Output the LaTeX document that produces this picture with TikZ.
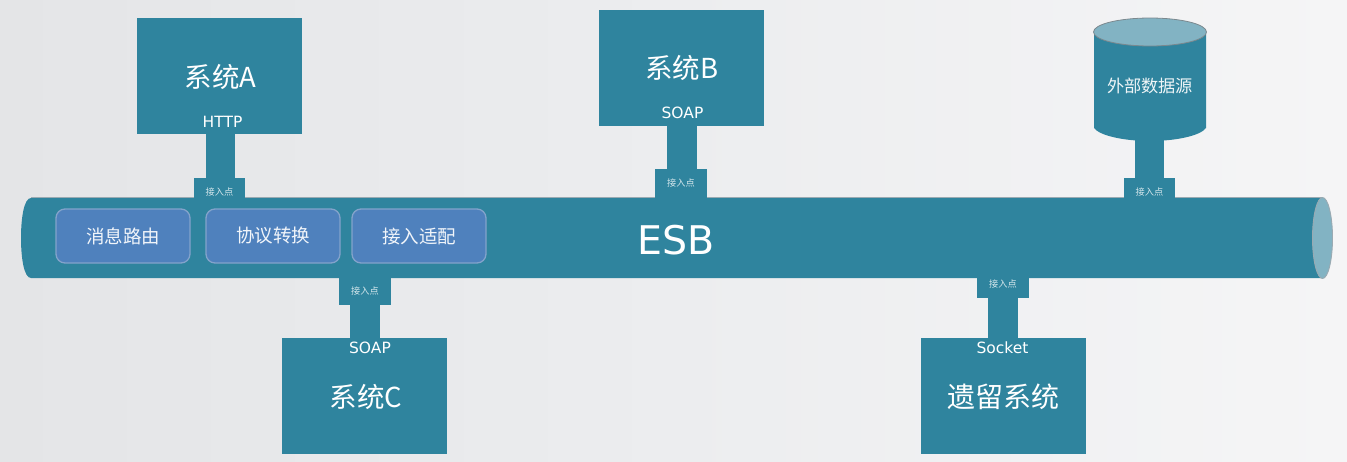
\documentclass[tikz,border=0pt]{standalone}
\usepackage{fontspec}
\setmainfont{DejaVu Sans}
\newfontfamily\cjk{Noto Sans CJK SC}
\definecolor{teal1}{HTML}{2F849E}
\definecolor{teal2}{HTML}{82B3C3}
\definecolor{edgegray}{HTML}{9AAAB2}
\definecolor{blue1}{HTML}{4F81BD}
\definecolor{blue2}{HTML}{83A3CB}
\definecolor{bgL}{HTML}{E4E5E7}
\definecolor{bgM}{HTML}{ECEDEF}
\definecolor{bgR}{HTML}{F5F5F6}
\newcommand{\fs}[1]{\fontsize{#1}{#1}\selectfont}
\tikzset{
  x=1pt,y=-1pt,
  sysbox/.style={fill=teal1,draw=none,minimum width=165pt,minimum height=116pt,inner sep=0pt},
  access/.style={fill=teal1,draw=none,minimum width=51.5pt,inner sep=0pt},
  aclabel/.style={text=white!80!teal1,font=\cjk\fs{9.2},inner sep=0pt},
  linkbar/.style={draw=teal1,line width=29.5pt},
  func/.style={fill=blue1,draw=blue2,line width=1.3pt,rounded corners=9pt,minimum width=134pt,minimum height=54pt,inner sep=0pt,text=white!92!blue1,font=\cjk\fs{18.5}},
  systitle/.style={text=white,inner sep=0pt,font=\cjk\fs{27.5}},
  proto/.style={text=white,inner sep=0pt,font=\fs{15.5}}
}
\begin{document}
\begin{tikzpicture}
\useasboundingbox (0,0) rectangle (1347,461);
\shade[left color=bgL,right color=bgR,middle color=bgM] (0,0) rectangle (1347,461);

% system boxes
\node[sysbox] (sysA) at (219.5,76) {};
\node[sysbox] (sysB) at (681,68) {};
\node[sysbox] (sysC) at (364.5,396) {};
\node[sysbox] (sysD) at (1003.5,396) {};

% bus
\fill[teal1] (31,198) -- (1322.5,198) -- (1322.5,278) -- (31,278)
  .. controls (24,278) and (21,258) .. (21,238) .. controls (21,218) and (24,198) .. (31,198) -- cycle;
\draw[edgegray,line width=0.6pt] (31,197.7) -- (1322.5,197.7);
\coordinate (busend) at (1322.5,238);
\draw[fill=teal2,draw=edgegray,line width=0.9pt] (busend) ellipse [x radius=10,y radius=40.5];

% access points
\node[access,minimum height=20pt] (acA) at (219.5,188) {};
\node[access,minimum height=29pt] (acB) at (681,183.5) {};
\node[access,minimum height=20pt] (acE) at (1149.5,188) {};
\node[access,minimum height=27pt] (acC) at (365,291.5) {};
\node[access,minimum height=20pt] (acD) at (1003,288) {};
\node[aclabel] (lbA) at (219.5,192) {接入点};
\node[aclabel] (lbB) at (681,183) {接入点};
\node[aclabel] (lbE) at (1149.5,192) {接入点};
\node[aclabel] (lbC) at (365,291) {接入点};
\node[aclabel] (lbD) at (1003,284) {接入点};

% database
\path[fill=teal1] (1094,32) -- (1206,32) -- (1206,128) .. controls (1200,136) and (1175,141) .. (1150,141)
  .. controls (1125,141) and (1100,136) .. (1094,128) -- cycle;
\coordinate (dbBottom) at (1150,140);
\coordinate (dbTop) at (1150,32);
\draw[fill=teal2,draw=edgegray!80!black,line width=0.8pt] (dbTop) ellipse [x radius=56.5,y radius=14];
\node[text=white!92!teal1,inner sep=0pt,font=\cjk\fs{17.2}] (dbLabel) at (1150,86) {外部数据源};

% connectors
\draw[linkbar] ([xshift=1pt]acA.north) -- ([xshift=1pt]sysA.south -| acA.north);
\draw[linkbar] ([xshift=1pt]acB.north) -- ([xshift=1pt]sysB.south -| acB.north);
\draw[linkbar] (acE.north) -- (dbBottom -| acE.north);
\draw[linkbar] (acC.south) -- (sysC.north -| acC.south);
\draw[linkbar] (acD.south) -- (sysD.north -| acD.south);

% titles and protocols
\node[systitle] (tA) at (220.5,77) {系统A};
\node[systitle] (tB) at (682,68) {系统B};
\node[systitle] (tC) at (366,397) {系统C};
\node[systitle,font=\cjk\fs{28}] (tD) at (1003,397) {遗留系统};
\node[proto] (pA) at (222.5,122) {HTTP};
\node[proto] (pB) at (682.5,113) {SOAP};
\node[proto] (pC) at (370,348) {SOAP};
\node[proto] (pD) at (1002.5,348) {Socket};

% function boxes and bus label
\node[func] (f1) at (123,236) {消息路由};
\node[func] (f2) at (273,236) {协议转换};
\node[func] (f3) at (419,236) {接入适配};
\node[text=white,inner sep=0pt,font=\fs{39.5}] (esb) at (676.5,240) {ESB};
\end{tikzpicture}
\end{document}
